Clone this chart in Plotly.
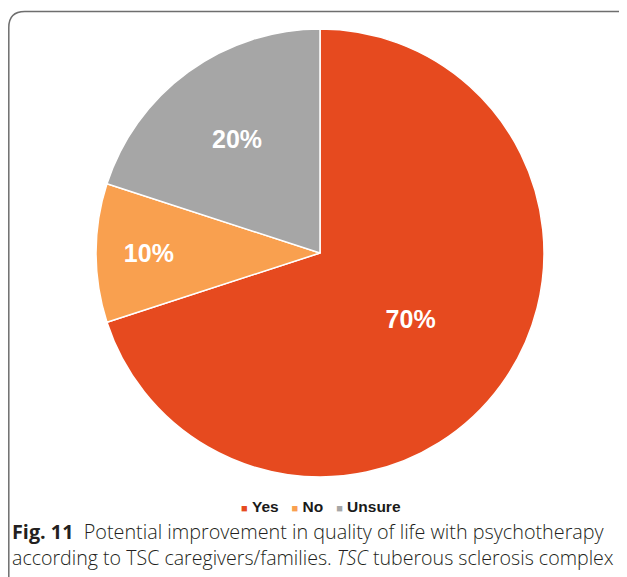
import plotly.graph_objects as go

categories = ["Yes", "No", "Unsure"]
values = [70, 10, 20]
colors = ["#E64A1F", "#F9A04F", "#A6A6A6"]
caption_bold = "Fig. 11"
caption_line1 = "Potential improvement in quality of life with psychotherapy"
caption_line2 = "according to TSC caregivers/families. <i>TSC</i> tuberous sclerosis complex"

W, H = 627, 577
OFF = 8  # page body margin offset
L, T, PW, PH = 88, 21, 448, 448
R, B = W - L - PW, H - T - PH

def px(x):
    return (x - OFF - L) / PW

def py(y):
    return 1 - (y - OFF - T) / PH

fig = go.Figure(go.Pie(
    labels=categories,
    values=values,
    marker=dict(colors=colors, line=dict(color="white", width=1.5)),
    sort=False,
    direction="clockwise",
    rotation=0,
    textinfo="percent",
    textposition="inside",
    insidetextorientation="horizontal",
    textfont=dict(family="Liberation Sans", size=25, color="white", weight="bold"),
    hoverinfo="label+percent",
    showlegend=False,
))

# rounded frame (partially visible as in reference)
lx, ty, rr = 8.8, 11.5, 16
path = (f"M {px(lx)},{py(620)} L {px(lx)},{py(ty+rr)} "
        f"Q {px(lx)},{py(ty)} {px(lx+rr)},{py(ty)} "
        f"L {px(619)},{py(ty)} Q {px(624)},{py(ty)} {px(627)},{py(ty+4)}")
fig.add_shape(type="path", path=path, xref="paper", yref="paper",
              line=dict(color="#6E6E6E", width=1.5))

# legend row
legend_text = "&nbsp;&nbsp;&nbsp;".join(
    f"<span style='color:{c};font-size:11px'>■</span>&nbsp;{cat}"
    for cat, c in zip(categories, colors)
)
fig.add_annotation(x=px(321), y=py(506), xref="paper", yref="paper",
                   xanchor="center", yanchor="middle", showarrow=False,
                   text=legend_text,
                   font=dict(family="Liberation Sans", size=15.5, color="#1a1a1a", weight="bold"))

fig.add_annotation(x=px(10), y=py(531), xref="paper", yref="paper",
                   xanchor="left", yanchor="middle", showarrow=False,
                   text=f"<b>{caption_bold}</b>&nbsp;&nbsp;{caption_line1}",
                   font=dict(family="Open Sans", size=19.8, color="#231F20", weight=300))
fig.add_annotation(x=px(10), y=py(557), xref="paper", yref="paper",
                   xanchor="left", yanchor="middle", showarrow=False,
                   text=caption_line2,
                   font=dict(family="Open Sans", size=19.6, color="#231F20", weight=300))

fig.update_layout(
    width=W, height=H,
    margin=dict(l=L, r=R, t=T, b=B),
    paper_bgcolor="white",
    plot_bgcolor="white",
    showlegend=False,
)

fig.write_html("out.html")
